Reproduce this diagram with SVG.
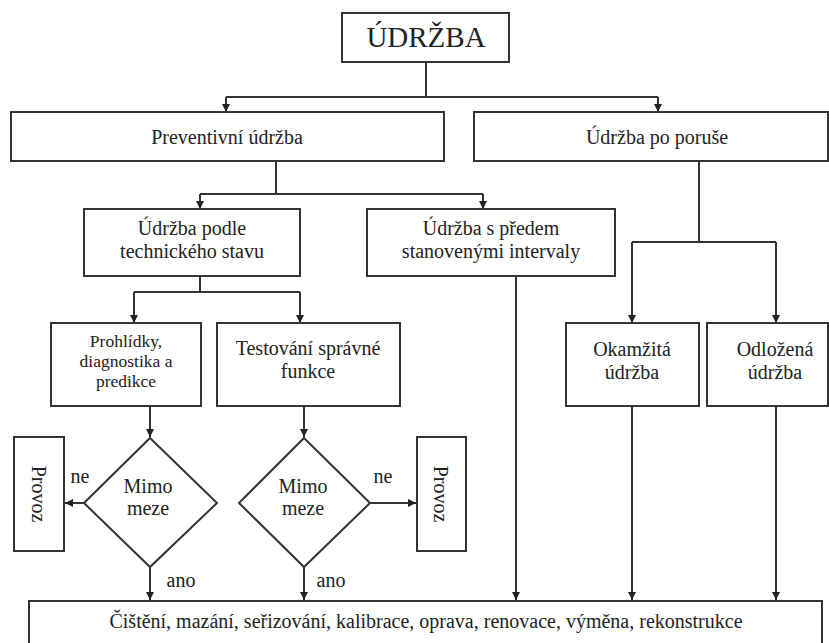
<svg xmlns="http://www.w3.org/2000/svg" width="829" height="643" viewBox="0 0 829 643" font-family="'Liberation Serif', 'Times New Roman', 'DejaVu Serif', serif">
<defs>
<marker id="arr" viewBox="0 0 8 8" refX="8" refY="4" markerWidth="8" markerHeight="8" markerUnits="userSpaceOnUse" orient="auto">
<path d="M0,0 L8,4 L0,8 z" fill="#222"/>
</marker>
<style>
.box{fill:#fff;stroke:#333;stroke-width:2}
.t{font-family:'Liberation Serif','Times New Roman','DejaVu Serif',serif;font-size:20px;fill:#222;text-anchor:middle}
.s{font-size:17.5px}
.c{fill:none;stroke:#333;stroke-width:2}
.a{marker-end:url(#arr)}
</style>
</defs>
<rect width="829" height="643" fill="#fff"/>
<g id="connectors">
<path class="c" d="M426,62 V97 M226,97 H658"/>
<path class="c a" d="M226,97 V112"/>
<path class="c a" d="M658,97 V112"/>
<path class="c" d="M276,161 V194 M200,194 H483"/>
<path class="c a" d="M200,194 V209"/>
<path class="c a" d="M483,194 V209"/>
<path class="c" d="M699,161 V242 M632,242 H776"/>
<path class="c a" d="M632,242 V323"/>
<path class="c a" d="M776,242 V323"/>
<path class="c" d="M200,276 V292 M134,292 H300"/>
<path class="c a" d="M134,292 V323"/>
<path class="c a" d="M300,292 V323"/>
<path class="c a" d="M150,406 V437"/>
<path class="c a" d="M304,406 V437"/>
<path class="c a" d="M84,503 H65"/>
<path class="c a" d="M370,503 H416"/>
<path class="c a" d="M150,567 V600"/>
<path class="c a" d="M304,567 V600"/>
<path class="c a" d="M516,276 V600"/>
<path class="c a" d="M632,406 V600"/>
<path class="c a" d="M776,406 V600"/>
<text class="t" x="80" y="483">ne</text>
<text class="t" x="383" y="483">ne</text>
<text class="t" x="181" y="587">ano</text>
<text class="t" x="331" y="587">ano</text>
</g>
<g id="udrzba">
<rect class="box" x="342" y="13" width="167" height="49"/>
<text class="t" x="426" y="47" style="font-size:29px">ÚDRŽBA</text>
</g>
<g id="preventivni">
<rect class="box" x="11" y="112" width="433" height="49"/>
<text class="t" x="227" y="144">Preventivní údržba</text>
</g>
<g id="po-poruse">
<rect class="box" x="474" y="112" width="354" height="49"/>
<text class="t" x="657" y="144">Údržba po poruše</text>
</g>
<g id="podle-stavu">
<rect class="box" x="84" y="209" width="216" height="67"/>
<text class="t" x="192" y="235">Údržba podle</text>
<text class="t" x="192" y="258">technického stavu</text>
</g>
<g id="intervaly">
<rect class="box" x="367" y="209" width="248" height="67"/>
<text class="t" x="491" y="235">Údržba s předem</text>
<text class="t" x="491" y="258">stanovenými intervaly</text>
</g>
<g id="prohlidky">
<rect class="box" x="51" y="323" width="150" height="83"/>
<text class="t s" x="126" y="347">Prohlídky,</text>
<text class="t s" x="126" y="367">diagnostika a</text>
<text class="t s" x="126" y="387">predikce</text>
</g>
<g id="testovani">
<rect class="box" x="217" y="323" width="183" height="83"/>
<text class="t" x="308" y="355">Testování správné</text>
<text class="t" x="308" y="378">funkce</text>
</g>
<g id="okamzita">
<rect class="box" x="566" y="323" width="133" height="83"/>
<text class="t" x="632" y="356">Okamžitá</text>
<text class="t" x="632" y="379">údržba</text>
</g>
<g id="odlozena">
<rect class="box" x="707" y="323" width="121" height="83"/>
<text class="t" x="775" y="356">Odložená</text>
<text class="t" x="775" y="379">údržba</text>
</g>
<g id="mimo-meze-1">
<path class="box" d="M150,438 L217,503 L150,567 L84,503 z"/>
<text class="t" x="148" y="493">Mimo</text>
<text class="t" x="148" y="515">meze</text>
</g>
<g id="mimo-meze-2">
<path class="box" d="M304,438 L370,503 L304,567 L239,503 z"/>
<text class="t" x="303" y="493">Mimo</text>
<text class="t" x="303" y="515">meze</text>
</g>
<g id="provoz-1">
<rect class="box" x="14" y="437" width="50" height="114"/>
<text class="t" transform="translate(39,494) rotate(90)" y="7">Provoz</text>
</g>
<g id="provoz-2">
<rect class="box" x="417" y="437" width="49" height="114"/>
<text class="t" transform="translate(441,494) rotate(90)" y="7">Provoz</text>
</g>
<g id="cinnosti">
<rect class="box" x="29" y="601" width="793" height="60"/>
<text class="t" x="426" y="628">Čištění, mazání, seřizování, kalibrace, oprava, renovace, výměna, rekonstrukce</text>
</g>
</svg>
